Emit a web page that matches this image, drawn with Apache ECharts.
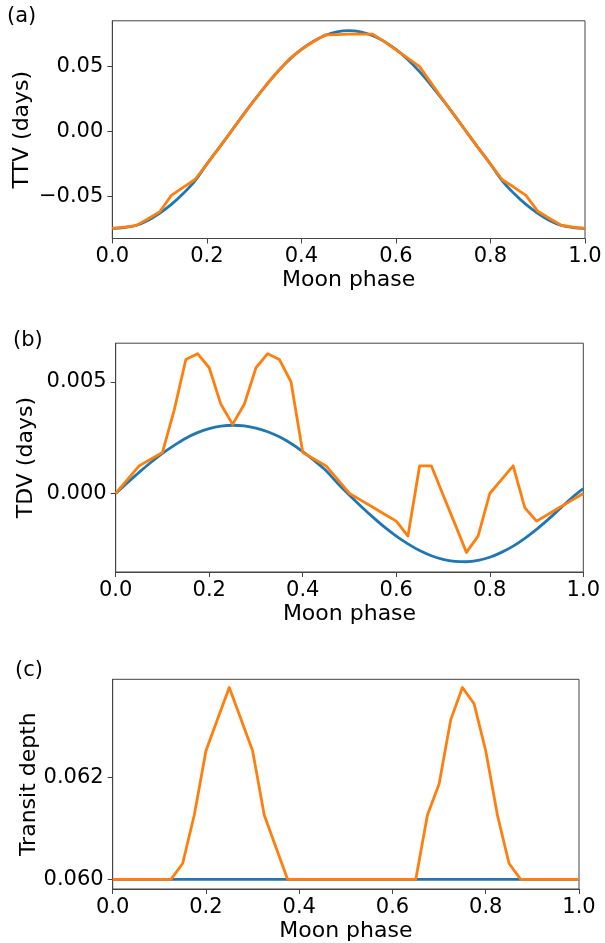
<!DOCTYPE html>
<html>
<head>
<meta charset="utf-8">
<script src="https://cdn.jsdelivr.net/npm/echarts@6/dist/echarts.min.js"></script>
<style>
html,body{margin:0;padding:0;background:#fff;}
#chart{width:605px;height:943px;}
</style>
</head>
<body>
<div id="chart"></div>
<script>
// ---- data ----
const phase = [0.000,0.025,0.050,0.075,0.100,0.125,0.150,0.175,0.200,0.225,
               0.250,0.275,0.300,0.325,0.350,0.375,0.400,0.425,0.450,0.475,
               0.500,0.525,0.550,0.575,0.600,0.625,0.650,0.675,0.700,0.725,
               0.750,0.775,0.800,0.825,0.850,0.875,0.900,0.925,0.950,0.975,1.000];

const ttvModel = [-0.0744,-0.0738,-0.0722,-0.0683,-0.0628,-0.0560,-0.0476,-0.0378,-0.0250,-0.0128,
                  -0.0005,0.0120,0.0240,0.0355,0.0462,0.0556,0.0633,0.0695,0.0740,0.0768,
                  0.0777,0.0768,0.0740,0.0695,0.0633,0.0556,0.0462,0.0355,0.0240,0.0120,
                  -0.0005,-0.0128,-0.0250,-0.0378,-0.0476,-0.0560,-0.0628,-0.0683,-0.0722,-0.0738,-0.0744];
const ttvSim   = [-0.0744,-0.0734,-0.0723,-0.0672,-0.0618,-0.0490,-0.0428,-0.0368,-0.0250,-0.0128,
                  -0.0005,0.0120,0.0240,0.0357,0.0463,0.0562,0.0632,0.0692,0.0744,0.0747,
                  0.0750,0.0751,0.0751,0.0695,0.0630,0.0565,0.0500,0.0372,0.0244,0.0120,
                  -0.0005,-0.0128,-0.0250,-0.0370,-0.0428,-0.0490,-0.0612,-0.0668,-0.0720,-0.0734,-0.0744];

const tdvModel = [0,0.00048,0.00095,0.00139,0.00180,0.00216,0.00248,0.00273,0.00291,0.00302,
                  0.00306,0.00303,0.00293,0.00277,0.00254,0.00224,0.00188,0.00147,0.00102,0.00045,
                  -0.00008,-0.00058,-0.00106,-0.00151,-0.00191,-0.00226,-0.00256,-0.00279,-0.00295,-0.00304,
                  -0.00306,-0.00300,-0.00286,-0.00264,-0.00236,-0.00201,-0.00161,-0.00116,-0.00068,-0.00020,0.00022];
const tdvSim   = [0,0.00062,0.00124,0.00154,0.00184,0.00373,0.00601,0.00627,0.00564,0.00400,
                  0.00310,0.00400,0.00564,0.00627,0.00601,0.00500,0.00184,0.00154,0.00124,0.00062,
                  0,-0.00031,-0.00062,-0.00093,-0.00124,-0.00191,0.00124,0.00124,-0.00006,-0.00134,
                  -0.00264,-0.00191,0,0.00062,0.00124,-0.00064,-0.00124,-0.00093,-0.00062,-0.00031,0];

const depthModel = [0.060,0.060,0.060,0.060,0.060,0.060,0.060,0.060,0.060,0.060,
                    0.060,0.060,0.060,0.060,0.060,0.060,0.060,0.060,0.060,0.060,
                    0.060,0.060,0.060,0.060,0.060,0.060,0.060,0.060,0.060,0.060,
                    0.060,0.060,0.060,0.060,0.060,0.060,0.060,0.060,0.060,0.060,0.060];
const depthSim   = [0.060,0.060,0.060,0.060,0.060,0.060,0.06031,0.06126,0.06252,0.06314,
                    0.06376,0.06314,0.06252,0.06126,0.06063,0.060,0.060,0.060,0.060,0.060,
                    0.060,0.060,0.060,0.060,0.060,0.060,0.060,0.06126,0.06187,0.06313,
                    0.06376,0.06344,0.06252,0.06126,0.06031,0.060,0.060,0.060,0.060,0.060,0.060];

const xTicks = [0.0,0.2,0.4,0.6,0.8,1.0];
const ttvTicks = [-0.05,0.00,0.05];
const tdvTicks = [0.000,0.005];
const depthTicks = [0.060,0.062];
const xName = 'Moon phase';
const yNames = ['TTV (days)','TDV (days)','Transit depth'];
const panelLabels = ['(a)','(b)','(c)'];

// ---- styling ----
const FONT = 'DejaVu Sans';
const AX = '#444';
const BLUE = '#1f77b4', ORANGE = '#ff7f0e';

const grids = [
  {left:112.3, top:20.8, width:472.7, height:217.7},
  {left:115.7, top:343.2, width:467.6, height:228.8},
  {left:112.7, top:679.3, width:466.3, height:212.4}
];
const yRanges = [[-0.0822,0.0853],[-0.00352,0.00674],[0.05981,0.06392]];
const yTickSets = [ttvTicks, tdvTicks, depthTicks];
const yDigits = [2,3,3];
const yNameGaps = [79,78,72];

function fmt(v,d){ const s=Math.abs(v).toFixed(d); return (v< -1e-12 ? '\u2212' : '') + s; }

const option = {
  animation:false,
  backgroundColor:'#fff',
  grid: grids.map(g=>Object.assign({show:true, borderColor:AX, borderWidth:1, backgroundColor:'transparent', containLabel:false}, g)),
  xAxis: grids.map((g,i)=>({
    type:'value', gridIndex:i, min:0, max:1, interval:0.2,
    name:xName, nameLocation:'middle', nameGap:31, nameMoveOverlap:false,
    nameTextStyle:{fontFamily:FONT, fontSize:22, color:'#000'},
    axisLine:{show:true, onZero:false, lineStyle:{color:AX, width:1}},
    axisTick:{show:true, length:5, lineStyle:{color:AX, width:1}, customValues:xTicks},
    axisLabel:{fontFamily:FONT, fontSize:21, color:'#000', margin:8, customValues:xTicks, formatter:v=>v.toFixed(1)},
    splitLine:{show:false}
  })),
  yAxis: grids.map((g,i)=>({
    type:'value', gridIndex:i, min:yRanges[i][0], max:yRanges[i][1],
    name:yNames[i], nameLocation:'middle', nameGap:yNameGaps[i], nameRotate:90, nameMoveOverlap:false,
    nameTextStyle:{fontFamily:FONT, fontSize:22, color:'#000'},
    axisLine:{show:true, onZero:false, lineStyle:{color:AX, width:1}},
    axisTick:{show:true, length:5, lineStyle:{color:AX, width:1}, customValues:yTickSets[i]},
    axisLabel:{fontFamily:FONT, fontSize:21, color:'#000', margin:9, customValues:yTickSets[i], formatter:v=>fmt(v,yDigits[i])},
    splitLine:{show:false}
  })),
  series: [],
  graphic: panelLabels.map((t,i)=>({
    type:'text', left:[7,13,15][i], top:[6,330,660][i],
    style:{text:t, font:'21px "DejaVu Sans"', fill:'#000'}
  }))
};

const pairs = [[ttvModel,ttvSim],[tdvModel,tdvSim],[depthModel,depthSim]];
pairs.forEach((p,i)=>{
  option.series.push({
    type:'line', xAxisIndex:i, yAxisIndex:i, showSymbol:false, symbol:'none',
    smooth: i<2 ? 0.35 : false,
    data: phase.map((x,k)=>[x,p[0][k]]),
    lineStyle:{color:BLUE, width:2.8}, z:2, clip:true
  });
  option.series.push({
    type:'line', xAxisIndex:i, yAxisIndex:i, showSymbol:false, symbol:'none',
    data: phase.map((x,k)=>[x,p[1][k]]),
    lineStyle:{color:ORANGE, width:2.8, join:'round'}, z:3, clip:true
  });
});

const chart = echarts.init(document.getElementById('chart'), null, {renderer:'canvas'});
chart.setOption(option);
</script>
</body>
</html>
